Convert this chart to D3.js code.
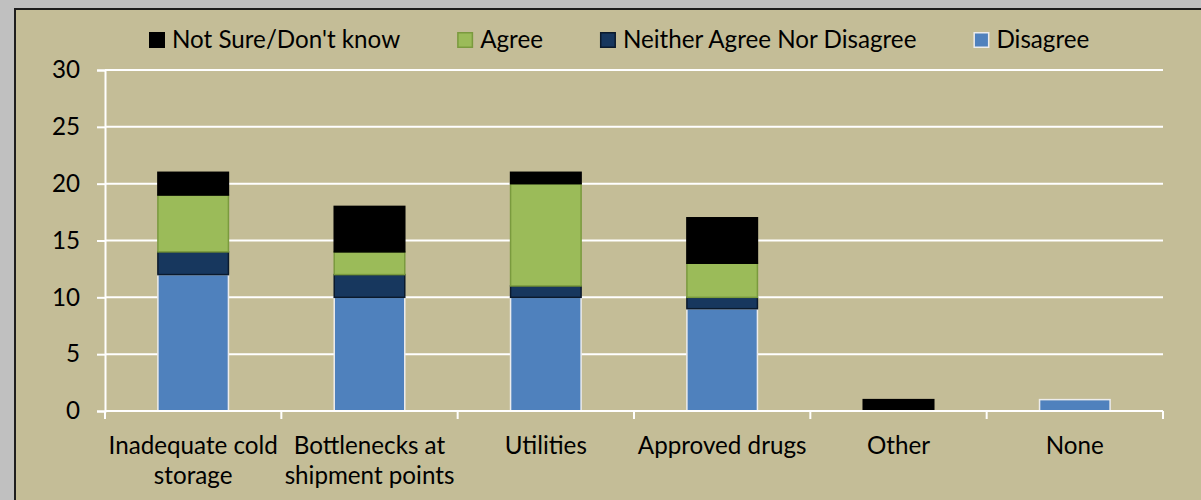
<!DOCTYPE html>
<html>
<head>
<meta charset="utf-8">
<script src="https://cdn.jsdelivr.net/npm/d3@7"></script>
<style>
  html, body { margin: 0; padding: 0; background: #C0C0C0; }
  svg { display: block; }
</style>
</head>
<body>
<svg id="chart" width="1201" height="500"></svg>
<script>
const categories = ["Inadequate cold storage", "Bottlenecks at shipment points", "Utilities", "Approved drugs", "Other", "None"];
const disagree = [12, 10, 10, 9, 0, 1];
const neither  = [2, 2, 1, 1, 0, 0];
const agree    = [5, 2, 9, 3, 0, 0];
const notSure  = [2, 4, 1, 4, 1, 0];
const yTicks = [0, 5, 10, 15, 20, 25, 30];
const seriesKeys = ["Disagree", "Neither Agree Nor Disagree", "Agree", "Not Sure/Don't know"];
const legendOrder = ["Not Sure/Don't know", "Agree", "Neither Agree Nor Disagree", "Disagree"];

const fill = {
  "Disagree": "#4F81BD",
  "Neither Agree Nor Disagree": "#17375E",
  "Agree": "#9BBB59",
  "Not Sure/Don't know": "#000000"
};
const stroke = {
  "Disagree": "#ECECEC",
  "Neither Agree Nor Disagree": "#0B1A2C",
  "Agree": "#7A9A3E",
  "Not Sure/Don't know": "#000000"
};

const rows = categories.map((c, i) => ({
  category: c,
  "Disagree": disagree[i],
  "Neither Agree Nor Disagree": neither[i],
  "Agree": agree[i],
  "Not Sure/Don't know": notSure[i]
}));

const svg = d3.select("#chart");
const W = 1201, H = 500;
const FONT = "Lato, 'Open Sans', sans-serif";

// calibrate font size so the legend text width matches the original's
const probe = svg.append("text").attr("font-family", FONT).attr("font-size", 100).text("Not Sure/Don't know");
const probeW = probe.node().getComputedTextLength();
probe.remove();
const fs = Math.round(100 * 228 / probeW * 10) / 10;

// frame
svg.append("rect").attr("x", 0).attr("y", 0).attr("width", W).attr("height", H).attr("fill", "#C0C0C0");
svg.append("rect").attr("x", 15).attr("y", 9).attr("width", W + 20).attr("height", H + 20)
  .attr("fill", "#C4BD97").attr("stroke", "#1E1E1E").attr("stroke-width", 2);

const plot = { left: 105, right: 1163, top: 70, bottom: 411 };

const x = d3.scaleBand().domain(categories).range([plot.left, plot.right]).paddingInner(0.6).paddingOuter(0.3);
const y = d3.scaleLinear().domain([0, 30]).range([plot.bottom, plot.top]);

// gridlines + y axis
const yAxis = d3.axisLeft(y).tickValues(yTicks).tickSize(8).tickPadding(17).tickFormat(d3.format("d"));
const gy = svg.append("g").attr("transform", `translate(${plot.left},0)`).call(yAxis);
gy.select(".domain").attr("stroke", "#FFFFFF").attr("stroke-width", 2);
gy.selectAll(".tick line").attr("stroke", "#FFFFFF").attr("stroke-width", 2);
gy.selectAll(".tick text").attr("font-family", FONT).attr("font-size", fs).attr("fill", "#000");

svg.append("g").selectAll("line").data(yTicks.filter(d => d > 0)).join("line")
  .attr("x1", plot.left).attr("x2", plot.right)
  .attr("y1", d => y(d)).attr("y2", d => y(d))
  .attr("stroke", "#FFFFFF").attr("stroke-width", 2);

// bars
const stack = d3.stack().keys(seriesKeys)(rows);
svg.append("g").selectAll("g").data(stack).join("g")
  .attr("fill", s => fill[s.key]).attr("stroke", s => stroke[s.key]).attr("stroke-width", 1.5)
  .selectAll("rect").data(s => s.filter(d => d[1] - d[0] > 0)).join("rect")
  .attr("x", d => x(d.data.category))
  .attr("width", x.bandwidth())
  .attr("y", d => y(d[1]))
  .attr("height", d => y(d[0]) - y(d[1]));

// x axis
const gx = svg.append("g");
gx.append("line").attr("x1", plot.left).attr("x2", plot.right).attr("y1", y(0)).attr("y2", y(0))
  .attr("stroke", "#FFFFFF").attr("stroke-width", 2);
const tickXs = d3.range(categories.length + 1).map(i => plot.left + i * x.step());
gx.selectAll("line.t").data(tickXs).join("line").attr("class", "t")
  .attr("x1", d => d).attr("x2", d => d).attr("y1", y(0)).attr("y2", y(0) + 8)
  .attr("stroke", "#FFFFFF").attr("stroke-width", 2);

// x labels with word wrap
function wrapWords(text, maxW) {
  const words = text.split(" ");
  const lines = [];
  let cur = "";
  const t = svg.append("text").attr("font-family", FONT).attr("font-size", fs);
  words.forEach(w => {
    const test = cur ? cur + " " + w : w;
    t.text(test);
    if (t.node().getComputedTextLength() > maxW && cur) { lines.push(cur); cur = w; }
    else cur = test;
  });
  if (cur) lines.push(cur);
  t.remove();
  return lines;
}
const lineH = 30;
categories.forEach(c => {
  const lines = wrapWords(c, x.step() + 6);
  const t = svg.append("text").attr("font-family", FONT).attr("font-size", fs).attr("fill", "#000")
    .attr("text-anchor", "middle");
  lines.forEach((l, i) => {
    t.append("tspan").attr("x", x(c) + x.bandwidth() / 2).attr("y", 454 + i * lineH).text(l);
  });
});

// legend
const lg = svg.append("g");
let lx = 149;
legendOrder.forEach(k => {
  lg.append("rect").attr("x", lx + 0.75).attr("y", 32.75).attr("width", 14.5).attr("height", 14.5)
    .attr("fill", fill[k]).attr("stroke", stroke[k]).attr("stroke-width", 1.5);
  const t = lg.append("text").attr("x", lx + 23).attr("y", 40).attr("dy", "0.35em")
    .attr("font-family", FONT).attr("font-size", fs).attr("fill", "#000").text(k);
  lx = lx + 23 + t.node().getComputedTextLength() + 57;
});
</script>
</body>
</html>
